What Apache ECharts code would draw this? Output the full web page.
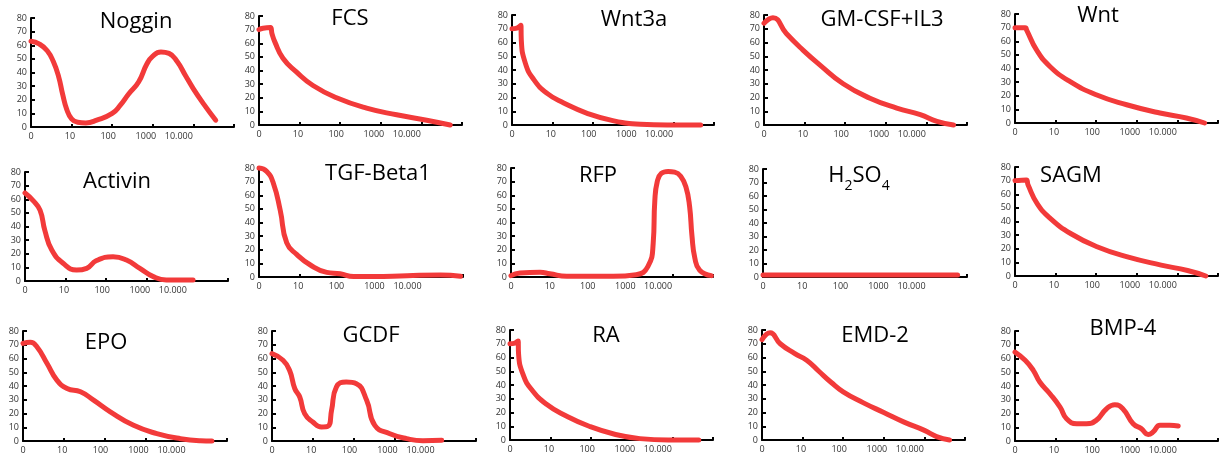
<!DOCTYPE html>
<html>
<head>
<meta charset="utf-8">
<script src="https://cdn.jsdelivr.net/npm/echarts@6/dist/echarts.min.js"></script>
<style>html,body{margin:0;padding:0;background:#fff}#c{width:1219px;height:459px}</style>
</head>
<body>
<div id="c"></div>
<script>
// x positions are log-decade units: 0 -> "0", 1 -> "10", 2 -> "100", 3 -> "1000", 4 -> "10.000"
const tickLabels = ['0', '10', '100', '1000', '10.000'];
const tickLabelPos = [0, 0.96, 1.9, 2.83, 3.64];

const titles = ['Noggin', 'FCS', 'Wnt3a', 'GM-CSF+IL3', 'Wnt',
  'Activin', 'TGF-Beta1', 'RFP', 'H2SO4', 'SAGM',
  'EPO', 'GCDF', 'RA', 'EMD-2', 'BMP-4'];

const noggin = [[0,63],[0.2,61],[0.4,56],[0.55,48],[0.68,37],[0.78,24],[0.88,13],[1.0,6],[1.15,3.5],[1.35,3],[1.62,5],[2.0,10],[2.2,16],[2.4,24],[2.65,33],[2.85,46],[3.0,52],[3.2,55],[3.4,54],[3.6,48],[3.8,38],[4.0,28],[4.25,17],[4.55,5]];
const fcs = [[0,70],[0.1,71],[0.28,71.5],[0.32,67],[0.39,61],[0.59,49],[0.92,39],[1.33,29],[1.91,20],[2.65,12.4],[3.39,7.5],[4.13,3.5],[4.71,0]];
const wnt3a = [[0,70],[0.12,70.5],[0.22,72.5],[0.23,62],[0.33,45],[0.54,33],[0.87,23],[1.28,16],[1.86,8.5],[2.52,3],[3.18,0.5],[3.84,0],[4.67,0]];
const gmcsf = [[0,74],[0.22,78],[0.55,66.5],[0.96,54.5],[1.38,43.6],[1.95,30],[2.61,19.5],[3.27,12.3],[3.85,7.5],[4.26,2.7],[4.67,0]];
const wnt = [[0,70],[0.25,70],[0.29,68],[0.53,53.6],[0.86,41.5],[1.35,30.5],[2.0,20.7],[2.75,13.4],[3.57,7.3],[4.22,3.7],[4.67,0]];
const activin = [[0,64.6],[0.2,59],[0.37,52],[0.49,37],[0.66,22.7],[0.94,13],[1.27,8],[1.52,9.3],[1.76,15],[2.17,17.8],[2.5,15.4],[2.83,9.3],[3.16,3.2],[3.48,0.7],[4.14,0.7]];
const tgf = [[0,80],[0.19,77.5],[0.35,69],[0.52,49],[0.68,25],[0.93,16.4],[1.25,9],[1.66,3.4],[1.99,2.4],[2.32,0.3],[2.81,0.3],[3.63,1],[4.45,1.5],[4.94,0.5]];
const rfp = [[0,1],[0.22,3],[0.72,3.4],[0.96,2.4],[1.38,0.5],[2.53,0.5],[3.1,1.7],[3.39,7.8],[3.52,25],[3.56,56],[3.62,70],[3.72,76],[3.89,77.5],[4.05,77],[4.2,74],[4.33,66],[4.42,52],[4.48,30],[4.55,14],[4.67,5],[4.96,1]];
const h2so4 = [[0,1.5],[1,1.5],[2,1.5],[3,1.5],[4,1.5],[4.77,1.5]];
const sagm = [[0,70],[0.28,70.5],[0.32,67],[0.55,53],[0.88,42],[1.38,31],[2.02,21.5],[2.77,14],[3.6,8],[4.25,4],[4.7,0]];
const epo = [[0,71],[0.18,71.8],[0.34,68.6],[0.59,56.4],[0.83,44.3],[1.08,38.2],[1.41,35.8],[1.73,29.7],[2.14,21.2],[2.71,11.4],[3.28,5.4],[3.86,1.7],[4.35,0.2],[4.63,0]];
const gcdf = [[0,63.5],[0.27,58.7],[0.43,51.4],[0.56,38],[0.68,32],[0.8,19.9],[1.0,13.8],[1.21,10.2],[1.37,10.7],[1.46,22.3],[1.58,39.3],[1.82,42.9],[2.07,41.7],[2.32,29.6],[2.52,11.4],[2.89,5.3],[3.3,1.7],[3.7,0.2],[4.16,0.5]];
const ra = [[0,70],[0.12,70.5],[0.2,72],[0.21,63],[0.33,47],[0.55,36],[0.9,26],[1.35,18],[1.95,10],[2.6,4],[3.2,1],[3.9,0],[4.65,0]];
const emd2 = [[0,73],[0.2,78],[0.45,70],[0.8,63],[1.1,58],[1.4,50],[1.7,42],[2.0,35],[2.5,27],[3.0,20],[3.5,13],[4.0,7],[4.3,2.5],[4.62,0]];
const bmp4 = [[0,64.7],[0.25,58.7],[0.45,51.4],[0.61,42.9],[0.86,34.4],[1.11,24.7],[1.27,16.2],[1.52,12.6],[1.76,12.6],[2.0,15],[2.25,23.3],[2.46,26.4],[2.66,23.3],[2.91,12.6],[3.11,9],[3.28,4.8],[3.4,6.5],[3.57,11.4],[3.81,11.4],[4.02,10.9]];

const seriesData = [noggin, fcs, wnt3a, gmcsf, wnt, activin, tgf, rfp, h2so4, sagm, epo, gcdf, ra, emd2, bmp4];

// layout: [left, top, width, height] of each plot area, and title [centerX, top]
const grids = [
  [31,18,203,109],[259,16,203,109],[512,15,202,110],[764,15,203,110],[1015,14,203,109],
  [25,172,203,109],[259,168,204,109],[511,168,202,109],[763,169,204,108],[1015,167,203,109],
  [23,331,204,110],[272,331,204,110],[510,330,203,110],[762,330,203,110],[1015,331,203,110]
];
const titlePos = [
  [131,6],[345,3],[629,4],[877,4],[1093,0],
  [112,166],[373,158],[593,160],[854,160],[1066,160],
  [101,327],[366,320],[601,320],[870,320],[1118,313]
];

const chart = echarts.init(document.getElementById('c'), null, {renderer: 'canvas'});
const opt = {grid: [], xAxis: [], yAxis: [], series: [], title: [], animation: false};
const FONT = 'Open Sans';
for (let i = 0; i < 15; i++) {
  const g = grids[i];
  opt.grid.push({left: g[0], top: g[1], width: g[2], height: g[3], containLabel: false});
  opt.xAxis.push({
    type: 'value', gridIndex: i, min: 0, max: 5, interval: 1,
    splitLine: {show: false},
    axisLine: {show: true, onZero: false, lineStyle: {color: '#000', width: 2}},
    axisTick: {show: true, inside: true, length: 3, lineStyle: {color: '#000', width: 2}},
    axisLabel: {
      show: true, customValues: tickLabelPos, fontSize: 9, color: '#333', margin: 5, fontFamily: FONT,
      formatter: function (v) { const k = tickLabelPos.indexOf(v); return k >= 0 ? tickLabels[k] : ''; }
    }
  });
  opt.yAxis.push({
    type: 'value', gridIndex: i, min: 0, max: 80, interval: 10,
    splitLine: {show: false},
    axisLine: {show: true, lineStyle: {color: '#000', width: 2}},
    axisTick: {show: true, inside: true, length: 4, lineStyle: {color: '#000', width: 2}},
    axisLabel: {show: true, fontSize: 9, color: '#333', margin: 4, fontFamily: FONT}
  });
  opt.series.push({
    type: 'line', xAxisIndex: i, yAxisIndex: i, data: seriesData[i],
    smooth: 0.5, symbol: 'none', clip: false, z: 5,
    lineStyle: {color: '#f23a3a', width: 5, cap: 'round', join: 'round'}
  });
  const t = titles[i];
  const isH = t === 'H2SO4';
  opt.title.push({
    text: isH ? '{a|H}{s|2}{a|SO}{s|4}' : t,
    left: titlePos[i][0], top: titlePos[i][1], textAlign: 'center',
    textStyle: isH ? {
      fontSize: 22, fontWeight: 'normal', color: '#000', fontFamily: FONT,
      rich: {
        a: {fontSize: 22, color: '#000', fontFamily: FONT, verticalAlign: 'top', lineHeight: 30},
        s: {fontSize: 14, color: '#000', fontFamily: FONT, verticalAlign: 'top', lineHeight: 30, padding: [14, 0, 0, 0]}
      }
    } : {fontSize: 22, fontWeight: 'normal', color: '#000', fontFamily: FONT}
  });
}
chart.setOption(opt);
</script>
</body>
</html>
